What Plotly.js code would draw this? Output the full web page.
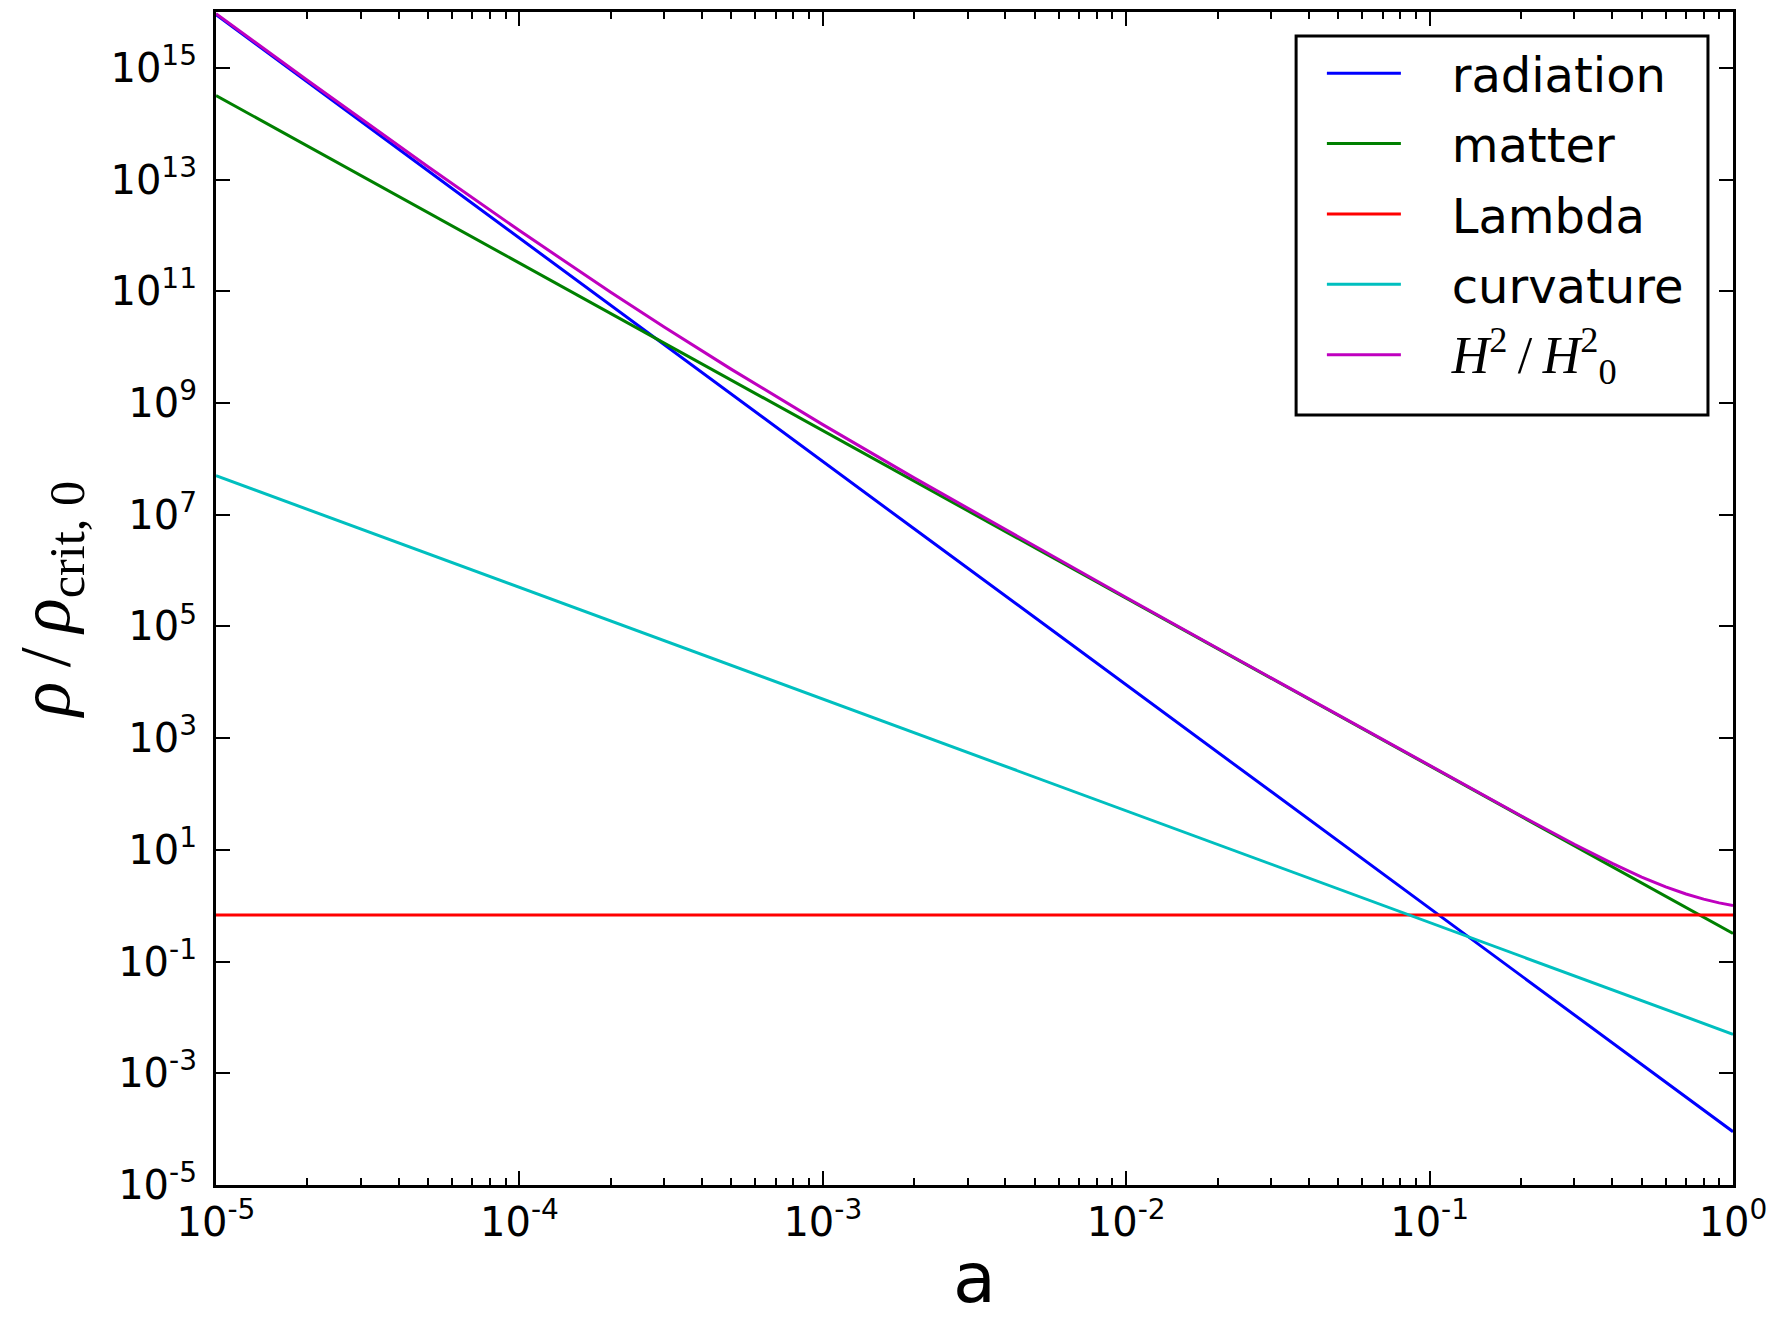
<!DOCTYPE html>
<html>
<head>
<meta charset="utf-8">
<script src="https://cdn.plot.ly/plotly-3.0.1.min.js"></script>
<style>html,body{margin:0;padding:0;background:#fff;}#chart{width:1776px;height:1319px;}</style>
</head>
<body>
<div id="chart"></div>
<script>
// Scale factor a (x values)
const aVals = [1e-5, 2e-5, 5e-5, 1e-4, 2e-4, 3e-4, 5e-4, 1e-3, 2e-3, 5e-3, 1e-2, 2e-2, 5e-2, 0.1, 0.2, 0.3, 0.4, 0.5, 0.6, 0.7, 0.8, 0.9, 1.0];

// Density components rho/rho_crit,0
const radiation = [9e15, 5.6e14, 1.44e13, 9e11, 5.6e10, 1.11e10, 1.44e9, 9e7, 5.6e6, 1.44e5, 9e3, 562, 14.4, 0.9, 0.056, 0.0111, 0.0035, 0.00144, 0.00069, 0.000375, 0.00022, 0.000137, 0.00009];
const matter = [3.2e14, 4e13, 2.56e12, 3.2e11, 4e10, 1.19e10, 2.56e9, 3.2e8, 4e7, 2.56e6, 3.2e5, 4e4, 2560, 320, 40, 11.85, 5.0, 2.56, 1.48, 0.93, 0.625, 0.44, 0.32];
const lambda = [0.68, 0.68, 0.68, 0.68, 0.68, 0.68, 0.68, 0.68, 0.68, 0.68, 0.68, 0.68, 0.68, 0.68, 0.68, 0.68, 0.68, 0.68, 0.68, 0.68, 0.68, 0.68, 0.68];
const curvature = [5e7, 1.25e7, 2e6, 5e5, 1.25e5, 5.56e4, 2e4, 5e3, 1250, 200, 50, 12.5, 2, 0.5, 0.125, 0.056, 0.031, 0.02, 0.0139, 0.0102, 0.0078, 0.0062, 0.005];
const hubble = [9.32e15, 6.0e14, 1.70e13, 1.22e12, 9.6e10, 2.3e10, 4.0e9, 4.1e8, 4.56e7, 2.70e6, 3.29e5, 4.06e4, 2577, 322, 40.9, 12.6, 5.72, 3.26, 2.18, 1.62, 1.31, 1.125, 1.005];

// Tick labels
const xTickVals = [1e-5, 1e-4, 1e-3, 1e-2, 1e-1, 1];
const xTickText = ['10<sup>-5</sup>', '10<sup>-4</sup>', '10<sup>-3</sup>', '10<sup>-2</sup>', '10<sup>-1</sup>', '10<sup>0</sup>'];
const yTickVals = [1e-5, 1e-3, 1e-1, 1e1, 1e3, 1e5, 1e7, 1e9, 1e11, 1e13, 1e15];
const yTickText = ['10<sup>-5</sup>', '10<sup>-3</sup>', '10<sup>-1</sup>', '10<sup>1</sup>', '10<sup>3</sup>', '10<sup>5</sup>', '10<sup>7</sup>', '10<sup>9</sup>', '10<sup>11</sup>', '10<sup>13</sup>', '10<sup>15</sup>'];

const seriesNames = ['radiation', 'matter', 'Lambda', 'curvature',
  '<span style="font-family:\'Liberation Serif\',serif;font-size:52px"><i>H</i><sup>2</sup>\u2009/\u2009<i>H</i><sup>2</sup><sub>0</sub></span>'];
const seriesColors = ['#0000ff', '#008000', '#ff0000', '#00bfbf', '#bf00bf'];
const seriesData = [radiation, matter, lambda, curvature, hubble];

const gap = '\u00a0\u00a0\u00a0';
const traces = seriesData.map((ys, i) => ({
  x: aVals, y: ys, type: 'scatter', mode: 'lines',
  name: gap + seriesNames[i], legendgroup: 'g' + i,
  line: {color: seriesColors[i], width: 3}
}));

// minor tick positions for x log axis
const minorX = [];
for (let d = -5; d < 0; d++) for (let m = 2; m <= 9; m++) minorX.push(m * Math.pow(10, d));

const font = {family: 'DejaVu Sans, sans-serif', color: '#000'};

const layout = {
  width: 1776, height: 1319,
  margin: {l: 216, r: 43, t: 12, b: 134},
  paper_bgcolor: '#fff', plot_bgcolor: '#fff',
  showlegend: true,
  legend: {
    x: 0.729, y: 0.980, xanchor: 'left', yanchor: 'top',
    borderwidth: 0, bgcolor: 'rgba(0,0,0,0)',
    font: {family: 'DejaVu Sans, sans-serif', size: 48, color: '#000'},
    itemwidth: 74, tracegroupgap: 5
  },
  shapes: [{
    type: 'rect', xref: 'paper', yref: 'paper',
    x0: 0.712, x1: 0.9835, y0: 0.6564, y1: 0.9795,
    line: {color: '#000', width: 3}, fillcolor: '#fff', layer: 'below'
  }],
  xaxis: {
    type: 'log', range: [-5, 0],
    tickmode: 'array', tickvals: xTickVals, ticktext: xTickText,
    ticks: 'inside', ticklen: 14, tickwidth: 2, tickcolor: '#000',
    minor: {tickmode: 'array', tickvals: minorX, ticks: 'inside', ticklen: 7, tickwidth: 2, tickcolor: '#000', showgrid: false},
    showline: true, linecolor: '#000', linewidth: 3, mirror: 'ticks',
    showgrid: false, zeroline: false,
    tickfont: Object.assign({size: 40}, font),
    title: {text: 'a', font: Object.assign({size: 70}, font), standoff: 38}
  },
  yaxis: {
    type: 'log', range: [-5, 16],
    tickmode: 'array', tickvals: yTickVals, ticktext: yTickText,
    ticks: 'inside', ticklen: 14, tickwidth: 2, tickcolor: '#000',
    ticklabelstandoff: 8,
    showline: true, linecolor: '#000', linewidth: 3, mirror: 'ticks',
    showgrid: false, zeroline: false,
    tickfont: Object.assign({size: 40}, font),
    title: {text: '<i>ρ</i>\u2009/\u2009<i>ρ</i><sub>crit, 0</sub>', font: {family: 'Liberation Serif, serif', size: 72, color: '#000'}, standoff: 18}
  }
};

Plotly.newPlot('chart', traces, layout, {displayModeBar: false, staticPlot: true});
</script>
</body>
</html>
